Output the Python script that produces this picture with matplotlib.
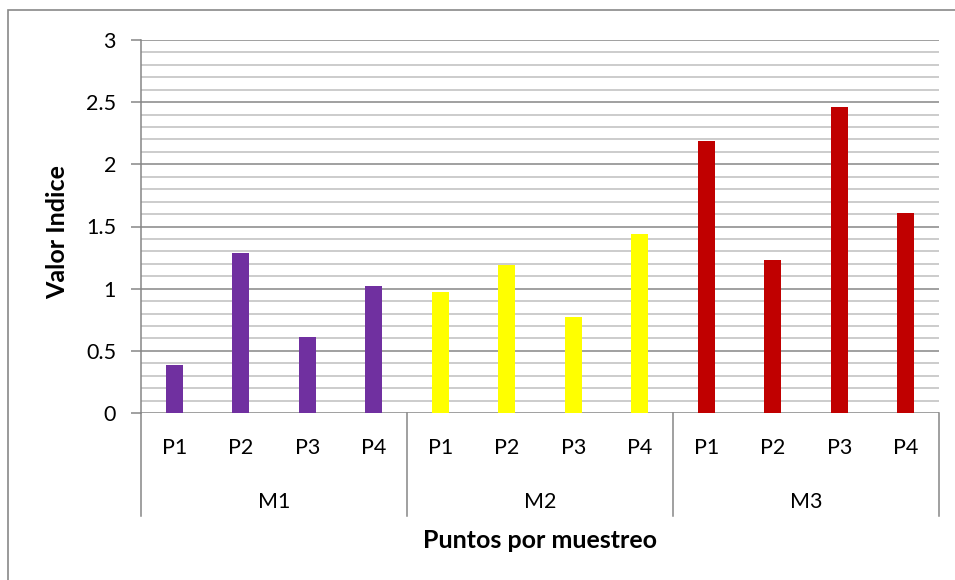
import matplotlib
matplotlib.use("Agg")
import matplotlib.pyplot as plt
from matplotlib.patches import Rectangle
from matplotlib.lines import Line2D
import numpy as np

groups = ["M1", "M2", "M3"]
points = ["P1", "P2", "P3", "P4"]
m1_values = [0.39, 1.29, 0.61, 1.02]
m2_values = [0.97, 1.19, 0.77, 1.44]
m3_values = [2.19, 1.23, 2.46, 1.61]
group_colors = ["#7030A0", "#FFFF00", "#C00000"]
y_ticks = [0, 0.5, 1, 1.5, 2, 2.5, 3]
y_tick_labels = ["0", "0.5", "1", "1.5", "2", "2.5", "3"]

plt.rcParams['font.family'] = ['Lato', 'DejaVu Sans']

fig = plt.figure(figsize=(9.55, 5.8), dpi=100)
ax = fig.add_axes([141/955, 1 - 413/580, (939-141)/955, (413-40)/580])

# outer chart border (only left/top visible in the reference)
fig.patches.append(Rectangle((8/955, -0.5), 2.0, 1.5 - 10/580, transform=fig.transFigure,
                             fill=False, edgecolor="#898989", linewidth=1.2, zorder=0))

all_values = [m1_values, m2_values, m3_values]
n = len(points)
for gi, (vals, col) in enumerate(zip(all_values, group_colors)):
    xs = np.arange(n) + gi * n
    ax.bar(xs, vals, width=0.25, color=col, zorder=3)

ax.set_xlim(-0.5, len(groups) * n - 0.5)
ax.set_ylim(0, 3)

# gridlines
for v in np.arange(1, 30):
    y = v / 10
    if v % 5 == 0:
        continue
    ax.axhline(y, color="#BFBFBF", linewidth=1.1, zorder=1)
for y in y_ticks:
    ax.axhline(y, color="#868686", linewidth=1.1, zorder=2)

TICK_FS = 15.5
BOLD_FS = 18

ax.set_yticks(y_ticks)
ax.set_yticklabels(y_tick_labels)
ax.tick_params(axis="y", length=7, width=1.1, color="#868686", pad=11, labelsize=TICK_FS)
ax.set_xticks([])

for s in ["top", "right", "bottom"]:
    ax.spines[s].set_visible(False)
ax.spines["left"].set_color("#868686")
ax.spines["left"].set_linewidth(1.1)

trans = ax.get_xaxis_transform()
sep_bottom = -(516 - 413) / 373
for b in np.arange(len(groups) + 1) * n - 0.5:
    ax.add_line(Line2D([b, b], [0, sep_bottom], transform=trans, color="#868686",
                       linewidth=1.1, clip_on=False))

p_y = -(448 - 413) / 373
m_y = -(502 - 413) / 373
for gi, g in enumerate(groups):
    for pi, p in enumerate(points):
        ax.text(gi * n + pi, p_y, p, transform=trans, ha="center", va="center", fontsize=TICK_FS)
    ax.text(gi * n + (n - 1) / 2, m_y, g, transform=trans, ha="center", va="center", fontsize=TICK_FS)

ax.text(0.5, -(540 - 413) / 373, "Puntos por muestreo", transform=ax.transAxes,
        ha="center", va="center", fontsize=BOLD_FS, fontweight="bold")
fig.text(58/955, 1 - 232/580, "Valor Indice", rotation=90, ha="center", va="center",
         fontsize=BOLD_FS, fontweight="bold")

fig.savefig("out.png", dpi=100)
